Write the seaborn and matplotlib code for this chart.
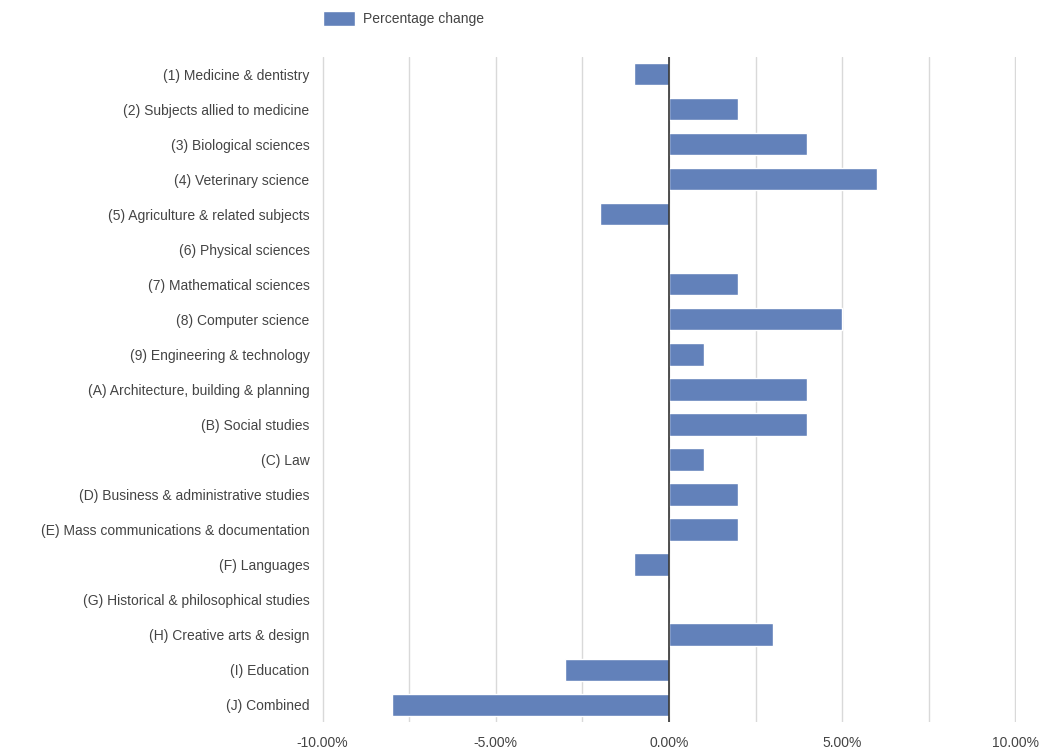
import pandas as pd
import matplotlib.pyplot as plt
import matplotlib.ticker as mticker
import seaborn as sns

subjects = [
    '(1) Medicine & dentistry',
    '(2) Subjects allied to medicine',
    '(3) Biological sciences',
    '(4) Veterinary science',
    '(5) Agriculture & related subjects',
    '(6) Physical sciences',
    '(7) Mathematical sciences',
    '(8) Computer science',
    '(9) Engineering & technology',
    '(A) Architecture, building & planning',
    '(B) Social studies',
    '(C) Law',
    '(D) Business & administrative studies',
    '(E) Mass communications & documentation',
    '(F) Languages',
    '(G) Historical & philosophical studies',
    '(H) Creative arts & design',
    '(I) Education',
    '(J) Combined',
]
pct_change = [-1, 2, 4, 6, -2, 0, 2, 5, 1, 4, 4, 1, 2, 2, -1, 0, 3, -3, -8]

df = pd.DataFrame({'subject': subjects, 'change': pct_change})

sns.set_style('white')
plt.rcParams['font.family'] = ['Liberation Sans', 'DejaVu Sans']

fig = plt.figure(figsize=(10.42, 7.49), dpi=100)
ax = fig.add_axes([0.309, 0.036, 0.666, 0.888])

bar_color = '#6281ba'
sns.barplot(data=df, x='change', y='subject', color=bar_color, width=0.63,
            orient='h', ax=ax, saturation=1, label='Percentage change')

ax.set_xlim(-10.02, 10.02)
ax.set_ylim(18.5, -0.5)
ax.set_xticks([-10, -7.5, -5, -2.5, 0, 2.5, 5, 7.5, 10])
ax.xaxis.set_major_formatter(mticker.FuncFormatter(
    lambda v, p: f'{v:.2f}%' if abs(v) % 5 == 0 else ''))
ax.grid(axis='x', color='#d9d9d9', linewidth=1)
ax.set_axisbelow(True)
ax.axvline(0, color='#333333', linewidth=1.2)
for s in ax.spines.values():
    s.set_visible(False)
ax.tick_params(axis='both', length=0, labelsize=10, labelcolor='#444444')
ax.tick_params(axis='y', pad=9)
ax.tick_params(axis='x', pad=10)
ax.set_xlabel('')
ax.set_ylabel('')

leg = ax.get_legend()
if leg is not None:
    leg.remove()
handles, labels = ax.get_legend_handles_labels()
fig.legend(handles[:1], labels[:1], loc='center left', bbox_to_anchor=(0.298, 0.975),
           frameon=False, fontsize=10, handlelength=2.3, handleheight=1.2,
           handletextpad=0.6, labelcolor='#444444')

plt.savefig('out.png', dpi=100)
